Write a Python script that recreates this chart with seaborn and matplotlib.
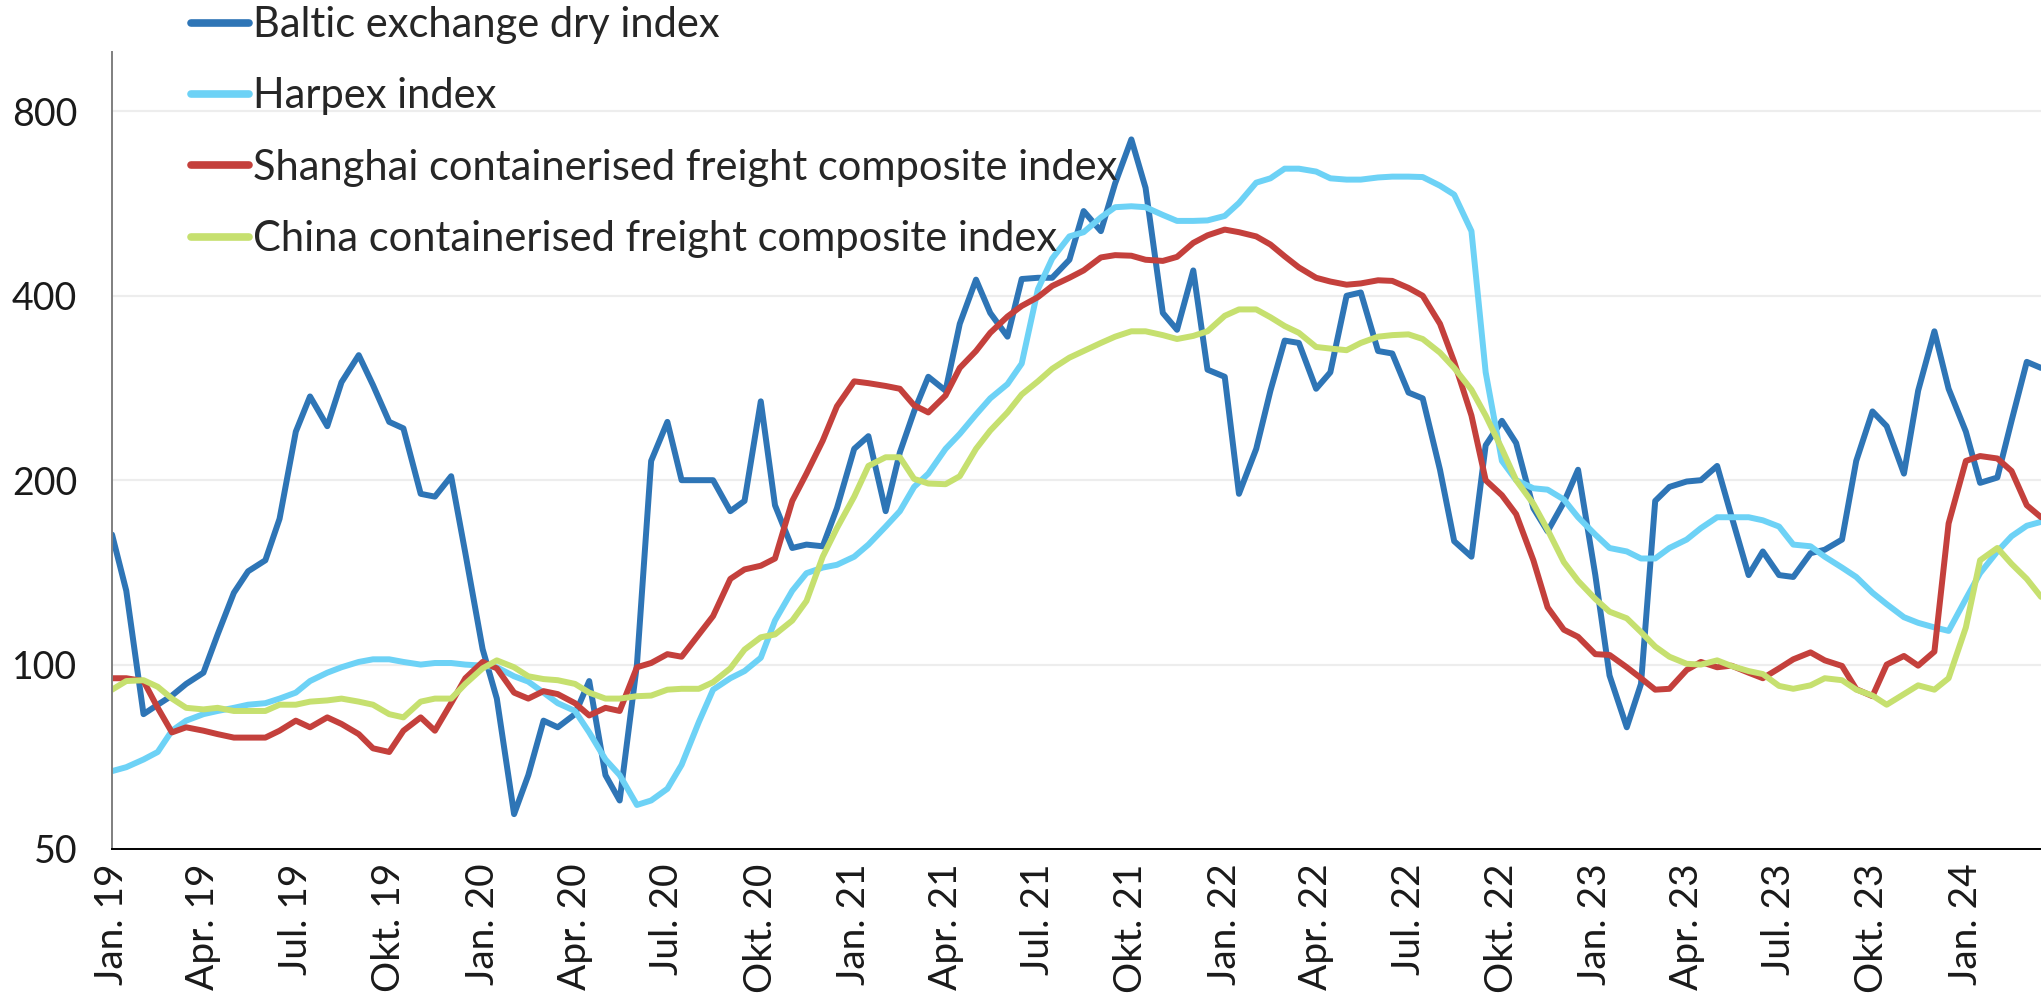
import matplotlib
matplotlib.use("Agg")
import matplotlib.pyplot as plt
import matplotlib.dates as mdates
from matplotlib.ticker import FixedLocator, FuncFormatter, NullLocator
import seaborn as sns
import numpy as np
import pandas as pd

# semi-monthly readings, Jan 2019 - Mar 2024 (index values, log scale)
dates = pd.date_range("2019-01-01", periods=126, freq="SMS")

baltic = [163, 132, 83, 86, 89, 93, 97, 112, 131, 142, 148, 173, 240, 274, 245, 289,
          320, 286, 249, 243, 190, 188, 203, 152, 106, 88, 57, 66, 81, 79, 83, 94,
          66, 60, 100, 215, 249, 200, 200, 200, 178, 185, 269, 182, 155, 157, 156, 180,
          225, 236, 178, 222, 259, 295, 280, 360, 425, 375, 343, 426, 428, 428, 458, 550,
          510, 610, 720, 600, 375, 352, 440, 303, 295, 190, 225, 280, 338, 335, 282, 300,
          400, 405, 325, 322, 278, 272, 208, 159, 150, 228, 250, 230, 180, 165, 184, 208,
          140, 96, 79, 93, 185, 195, 199, 200, 211, 175, 140, 153, 140, 139, 152, 154,
          160, 215, 259, 245, 205, 280, 350, 282, 240, 198, 202, 250, 312, 305]

harpex = [67, 68, 70, 72, 78, 81, 83, 84, 85, 86, 86.5, 88, 90, 94, 97, 99,
          101, 102, 102, 101, 100, 100.6, 100.6, 100, 99.6, 99, 95.7, 93.8, 90, 86.5, 84, 77.5,
          70, 66, 59, 60, 62.7, 68.6, 80.6, 91, 95, 97.6, 102.6, 118, 132, 141, 144, 145.5,
          150, 157, 168, 178, 195, 205, 225, 238, 256, 272, 287, 310, 410, 460, 500, 508,
          537, 558, 560, 558, 542, 530, 530, 531, 540, 567, 612, 622, 645, 645, 638, 622,
          619, 619, 624, 626, 626, 625, 605, 585, 510, 300, 215, 200, 194, 193, 186, 174,
          163, 155, 153, 149, 149, 155, 160, 167, 174, 174, 174, 172, 168, 157, 156, 150,
          144, 139, 131, 125.5, 119.5, 117, 115, 113.5, 128, 141, 153, 162, 168.5, 171]

shanghai = [95, 95, 94, 85, 77.5, 79, 78, 77, 76, 76, 76, 78, 81, 79, 82, 80,
            77, 73, 72, 78, 82, 78, 86.5, 95, 101, 98.6, 90, 88, 90.5, 89.5, 86.5, 82.6,
            85, 84, 99, 100.6, 104, 103, 112, 120, 138, 143, 145, 149, 185, 205, 232, 264,
            290, 288, 285, 282, 265, 258, 275, 305, 325, 348, 370, 385, 398, 415, 428, 440,
            462, 466, 465, 458, 456, 463, 488, 502, 513, 508, 500, 485, 464, 445, 428, 422,
            417, 419, 424, 423, 412, 400, 360, 312, 255, 200, 189, 176, 148, 124, 114, 111,
            104, 103.7, 99, 95, 91, 91.3, 98, 101, 99, 99.6, 97, 95, 98.6, 102, 104.7, 101.6,
            99.5, 91.2, 88.8, 100, 103.3, 99.6, 105, 170, 215, 219, 217, 207, 182, 174]

china = [91, 94, 94.3, 92, 88, 85, 84.5, 85, 84, 84, 84, 86, 86, 87, 87.4, 88,
         87, 86, 83, 82, 87, 88, 88, 93, 98.6, 101.6, 99, 95.7, 94.7, 94.3, 93, 90,
         88, 88, 88.8, 89, 91, 91.3, 91.3, 93.6, 98.6, 105.8, 110.8, 112, 118, 127, 150, 167,
         188, 211, 218, 218, 201, 197.5, 197, 203, 225, 241, 258, 276, 290, 304, 317, 325,
         335, 343, 350, 350, 345, 340, 344, 350, 371, 380, 380, 369, 357, 348, 330, 328,
         326, 335, 343, 345, 346, 340, 323, 305, 281, 255, 225, 200, 183, 166, 147, 137,
         128, 122, 119, 113, 107, 103, 100.3, 100, 101.6, 99.5, 97.6, 96.5, 92.3, 91.3, 92.5, 95,
         94.3, 91, 89, 86, 89.5, 92.5, 91, 95, 115, 148, 155, 146, 138, 129]

names = ["Baltic exchange dry index", "Harpex index",
         "Shanghai containerised freight composite index",
         "China containerised freight composite index"]
colors = ["#2E75B6", "#6DD2F6", "#C4403C", "#C6E06F"]

df = pd.DataFrame({"date": dates, names[0]: baltic, names[1]: harpex,
                   names[2]: shanghai, names[3]: china})
long = df.melt(id_vars="date", var_name="series", value_name="value")

sns.set_theme(style="white")
plt.rcParams["font.family"] = ["Lato", "DejaVu Sans"]

fig = plt.figure(figsize=(20.41, 10.02), dpi=100)
ax = fig.add_axes([0.0549, 0.1527, 0.9451, 0.7954])

sns.lineplot(data=long, x="date", y="value", hue="series", hue_order=names,
             palette=colors, linewidth=4.3, ax=ax, legend=False)

ax.set_yscale("log", base=2)
ax.set_ylim(50, 1000)
ax.yaxis.set_major_locator(FixedLocator([50, 100, 200, 400, 800]))
ax.yaxis.set_major_formatter(FuncFormatter(lambda v, p: f"{int(round(v))}"))
ax.yaxis.set_minor_locator(NullLocator())

ax.set_xlim(pd.Timestamp("2019-01-01"), pd.Timestamp("2024-03-15"))
month_names = {1: "Jan.", 4: "Apr.", 7: "Jul.", 10: "Okt."}
ax.xaxis.set_major_locator(mdates.MonthLocator(bymonth=[1, 4, 7, 10]))
ax.xaxis.set_minor_locator(mdates.MonthLocator())
ax.xaxis.set_major_formatter(FuncFormatter(
    lambda v, p: f"{month_names[mdates.num2date(v).month]} {mdates.num2date(v).strftime('%y')}"))

ax.grid(axis="y", color="#EDEDED", linewidth=1.6)
ax.set_axisbelow(True)
for s in ["top", "right"]:
    ax.spines[s].set_visible(False)
ax.spines["left"].set_color("#7F7F7F")
ax.spines["left"].set_linewidth(1.4)
ax.spines["bottom"].set_color("#000000")
ax.spines["bottom"].set_linewidth(1.4)

ax.tick_params(axis="x", which="major", direction="inout", length=16.5, width=1.4,
               color="#000000", labelsize=28, labelrotation=90, pad=2, labelcolor="#1A1A1A")
ax.tick_params(axis="x", which="minor", direction="out", length=7, width=1.2, color="#7F7F7F")
ax.tick_params(axis="y", which="major", direction="out", length=8, width=1.4,
               color="#7F7F7F", labelsize=27, pad=17, labelcolor="#1A1A1A")
ax.set_xlabel("")
ax.set_ylabel("")

handles = [plt.Line2D([], [], color=c, linewidth=5.5) for c in colors]
fig.legend(handles, names, loc="upper left", bbox_to_anchor=(0.0926, 0.996),
           frameon=False, fontsize=30, handlelength=1.4, handletextpad=0.08,
           labelspacing=0.8, borderpad=0.05, borderaxespad=0)

fig.savefig("out.png", dpi=100)
